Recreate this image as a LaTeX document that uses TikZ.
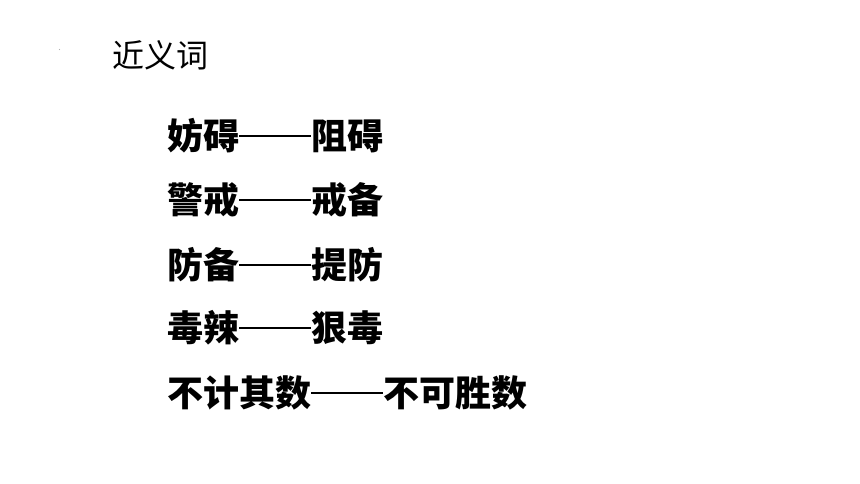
\documentclass[tikz,border=0pt]{standalone}
\usepackage{fontspec}
\newfontfamily\cjk{Noto Sans CJK SC}
\newcommand{\longdash}{\rule[0.36em]{2em}{1.8pt}}
\begin{document}
\begin{tikzpicture}[x=1pt,y=-1pt,
  title/.style={anchor=west,inner sep=0pt,font=\cjk\fontsize{32}{36}\selectfont},
  pair/.style={anchor=west,inner sep=0pt,font=\cjk\bfseries\fontsize{36}{40}\selectfont}]
\useasboundingbox (0,0) rectangle (860,484);
\fill[gray!60] (59.5,49.5) circle (0.6);
\node[title] (t) at (112,55) {近义词};
\node[pair] (p1) at (167,136) {妨碍\longdash 阻碍};
\node[pair] (p2) at (167,200) {警戒\longdash 戒备};
\node[pair] (p3) at (167,265) {防备\longdash 提防};
\node[pair] (p4) at (167,328) {毒辣\longdash 狠毒};
\node[pair] (p5) at (167,393) {不计其数\longdash 不可胜数};
\end{tikzpicture}
\end{document}
